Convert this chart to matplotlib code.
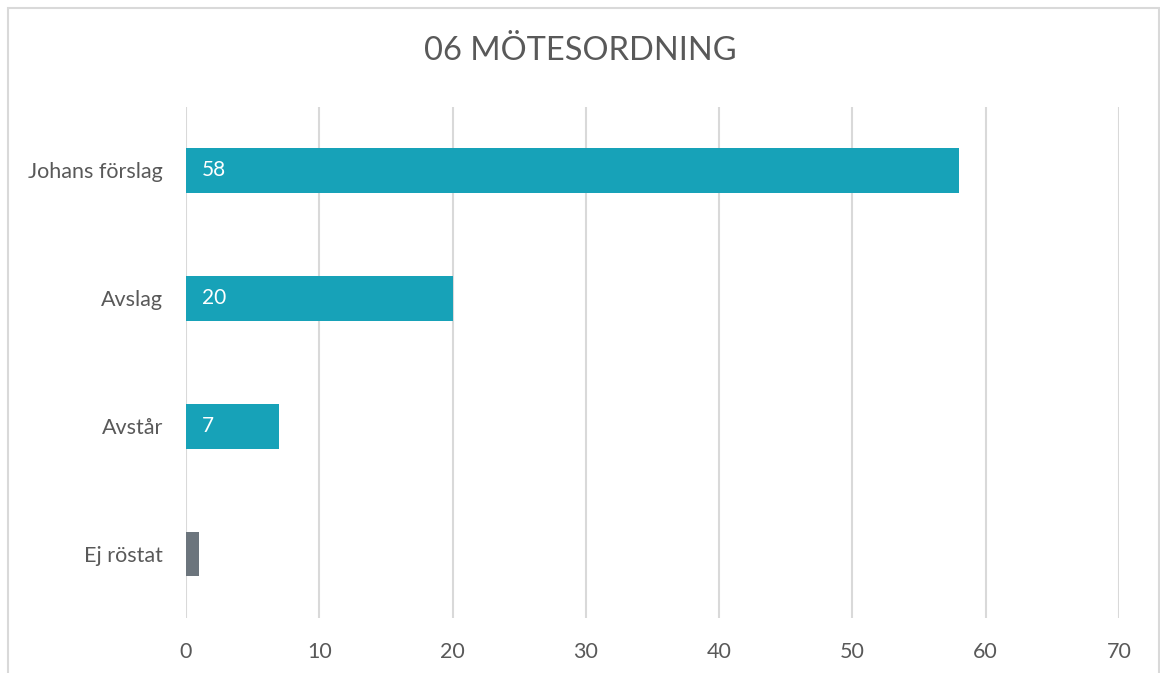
import matplotlib
matplotlib.use("Agg")
import matplotlib.pyplot as plt
from matplotlib.patches import Rectangle

categories = ["Johans förslag", "Avslag", "Avstår", "Ej röstat"]
values = [58, 20, 7, 1]
colors = ["#17A2B8", "#17A2B8", "#17A2B8", "#6C757D"]
show_label = [True, True, True, False]
x_ticks = [0, 10, 20, 30, 40, 50, 60, 70]
title = "06 MÖTESORDNING"

plt.rcParams['font.family'] = ['Lato', 'DejaVu Sans']
text_color = "#595959"

fig = plt.figure(figsize=(11.6, 6.73), dpi=100)
fig.patches.append(Rectangle((8/1160, -0.05), (1159-8)/1160, 1 - 8/673 + 0.05,
                             transform=fig.transFigure, fill=False,
                             edgecolor="#d9d9d9", linewidth=1.5))
ax = fig.add_axes([186/1160, 1 - 618/673, (1119-186)/1160, (618-106.5)/673])

ypos = list(range(len(categories)))
bars = ax.barh(ypos, values, height=0.35, color=colors, zorder=3)
for b, v, s in zip(bars, values, show_label):
    if s:
        ax.text(b.get_x() + 1.2, b.get_y() + b.get_height()/2, str(v),
                color="white", va="center", ha="left", fontsize=15, zorder=4)

ax.set_ylim(3.5, -0.5)
ax.set_xlim(0, 70)
ax.set_xticks(x_ticks)
ax.set_yticks(ypos)
ax.set_yticklabels(categories)
ax.tick_params(length=0, labelsize=15.5, labelcolor=text_color)
ax.tick_params(axis='x', pad=17)
ax.tick_params(axis='y', pad=16.5)
ax.grid(axis='x', color="#d9d9d9", linewidth=1.5, zorder=0)
for sp in ax.spines.values():
    sp.set_visible(False)

fig.text(0.5, 1 - 51/673, title, ha="center", va="center", fontsize=23.5, color=text_color)

fig.savefig("out.png", dpi=100)
